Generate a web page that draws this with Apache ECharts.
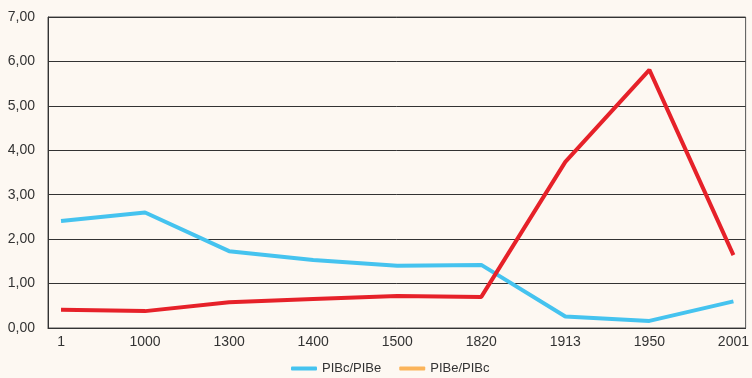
<!DOCTYPE html>
<html>
<head>
<meta charset="utf-8">
<script src="https://cdn.jsdelivr.net/npm/echarts@6/dist/echarts.min.js"></script>
<style>
html,body{margin:0;padding:0;background:#fdf8f2;}
#c{width:752px;height:378px;}
</style>
</head>
<body>
<div id="c"></div>
<script>
var categories = ['1','1000','1300','1400','1500','1820','1913','1950','2001'];
var pibcPibe = [2.41, 2.60, 1.73, 1.53, 1.40, 1.42, 0.26, 0.16, 0.60];
var pibePibc = [0.41, 0.38, 0.58, 0.65, 0.72, 0.70, 3.74, 5.81, 1.64];

function pts(arr){ return arr.map(function(v,i){ return [i,v]; }); }
var font = '"Liberation Sans", Arial, sans-serif';
var chart = echarts.init(document.getElementById('c'), null, {renderer:'canvas'});
chart.setOption({
  backgroundColor:'#fdf8f2',
  animation:false,
  grid:{left:48,right:5,top:17,bottom:50,show:true,borderColor:'#555',borderWidth:1,backgroundColor:'transparent'},
  xAxis:{
    type:'value', min:-0.155, max:8.145,
    splitLine:{show:false},
    axisTick:{show:false},
    axisLine:{show:true,onZero:false,lineStyle:{color:'#333',width:1}},
    axisLabel:{
      customValues:categories.map(function(c,i){return i;}),
      formatter:function(v){ return categories[Math.round(v)]; },
      color:'#333', fontSize:14, fontFamily:font, margin:7
    }
  },
  yAxis:{
    type:'value', min:0, max:7, interval:1,
    axisLine:{show:true,onZero:false,lineStyle:{color:'#333',width:1}},
    axisTick:{show:false},
    splitLine:{show:true,lineStyle:{color:'#333',width:1}},
    axisLabel:{
      formatter:function(v){ return v.toFixed(2).replace('.',','); },
      color:'#333', fontSize:14, fontFamily:font, margin:13
    }
  },
  legend:{
    top:357,
    left:286,
    icon:'roundRect',
    itemWidth:26, itemHeight:4, itemGap:18,
    textStyle:{color:'#333',fontSize:13,fontFamily:font},
    data:[
      {name:'PIBc/PIBe', itemStyle:{color:'#45c3ef'}},
      {name:'PIBe/PIBc', itemStyle:{color:'#fbb45a'}}
    ]
  },
  series:[
    {name:'PIBc/PIBe', type:'line', data:pts(pibcPibe), showSymbol:false, symbol:'none',
     itemStyle:{color:'#45c3ef'}, lineStyle:{color:'#45c3ef',width:4}},
    {name:'PIBe/PIBc', type:'line', data:pts(pibePibc), showSymbol:false, symbol:'none',
     itemStyle:{color:'#fbb45a'}, lineStyle:{color:'#e62129',width:4}}
  ]
});
</script>
</body>
</html>
